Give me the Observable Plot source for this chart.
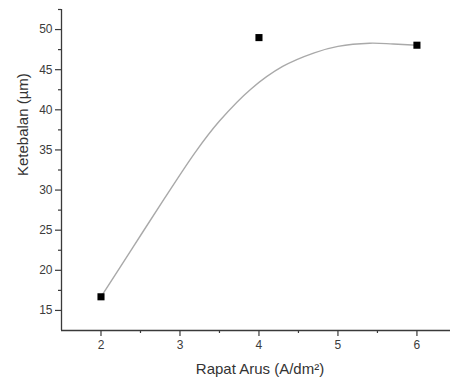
<!DOCTYPE html>
<html>
<head>
<meta charset="utf-8">
<script src="https://cdn.jsdelivr.net/npm/d3@7"></script>
<script src="https://cdn.jsdelivr.net/npm/@observablehq/plot@0.6"></script>
<style>
  html, body { margin: 0; padding: 0; background: #fff; }
  svg { display: block; }
</style>
</head>
<body>
<div id="chart"></div>
<script>
// Measured points
const pointX = [2, 4, 6];
const pointY = [16.7, 49.0, 48.05];

// Fitted curve
const curveX = [2, 2.4, 2.8, 3.2, 3.5, 3.9, 4.3, 4.7, 5.0, 5.4, 5.7, 6.0];
const curveY = [16.7, 22.8, 28.9, 34.8, 38.6, 42.6, 45.4, 47.1, 47.9, 48.3, 48.2, 48.05];

const xMajor = [2, 3, 4, 5, 6];
const xMinor = [2.5, 3.5, 4.5, 5.5];
const yMajor = [15, 20, 25, 30, 35, 40, 45, 50];
const yMinor = [17.5, 22.5, 27.5, 32.5, 37.5, 42.5, 47.5, 52.5];

const xTitle = "Rapat Arus (A/dm²)";
const yTitle = "Ketebalan (µm)";

const points = pointX.map((x, i) => ({x, y: pointY[i]}));
const curve = curveX.map((x, i) => ({x, y: curveY[i]}));

const axisColor = "#3a3a3a";
const labelColor = "#3c3c3c";

const chart = Plot.plot({
  width: 450,
  height: 383,
  marginLeft: 61,
  marginRight: 0,
  marginTop: 9,
  marginBottom: 53,
  style: {fontFamily: "'Liberation Sans', Arial, sans-serif", background: "#fff"},
  x: {domain: [1.5, 6.425], label: null},
  y: {domain: [12.5, 52.5], label: null},
  marks: [
    Plot.line(curve, {x: "x", y: "y", curve: "catmull-rom", stroke: "#a9a9a9", strokeWidth: 1.4}),
    Plot.dot(points, {x: "x", y: "y", symbol: "square", r: 4, fill: "#000", stroke: "none"}),
    Plot.ruleY([12.5], {stroke: axisColor, strokeWidth: 1.3}),
    Plot.ruleX([1.5], {stroke: axisColor, strokeWidth: 1.3}),
    Plot.axisX({ticks: xMinor, tickSize: 3, text: null, stroke: axisColor, strokeWidth: 1.2, label: null}),
    Plot.axisX({ticks: xMajor, tickFormat: "d", tickSize: 6, tickPadding: 4, stroke: axisColor, strokeWidth: 1.2, fill: labelColor, fontSize: 12, label: null}),
    Plot.axisY({ticks: yMinor, tickSize: 3, text: null, stroke: axisColor, strokeWidth: 1.2, label: null}),
    Plot.axisY({ticks: yMajor, tickFormat: "d", tickSize: 6, tickPadding: 3, stroke: axisColor, strokeWidth: 1.2, fill: labelColor, fontSize: 12, label: null}),
    Plot.text([xTitle], {frameAnchor: "bottom", dy: 43, dx: 4, fill: "#333", fontSize: 15}),
    Plot.text([yTitle], {frameAnchor: "left", rotate: -90, dx: -38, dy: 6, fill: "#333", fontSize: 15})
  ]
});
document.getElementById("chart").appendChild(chart);
</script>
</body>
</html>
